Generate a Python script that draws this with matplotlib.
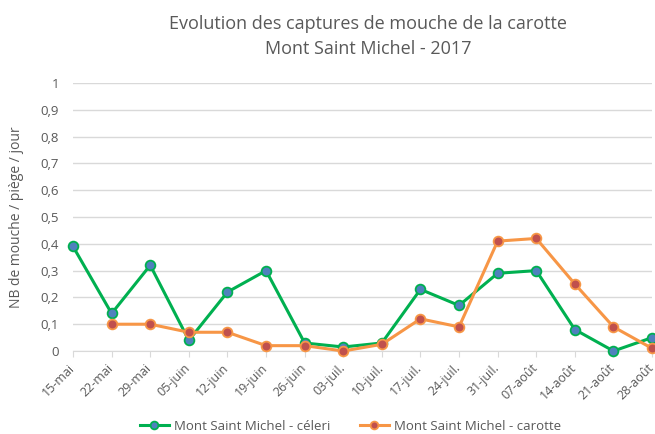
import matplotlib.pyplot as plt
import matplotlib.transforms as mtransforms
import numpy as np

dates = ['15-mai', '22-mai', '29-mai', '05-juin', '12-juin', '19-juin', '26-juin', '03-juil.',
         '10-juil.', '17-juil.', '24-juil.', '31-juil.', '07-août', '14-août', '21-août', '28-août']
celeri = [0.39, 0.14, 0.32, 0.04, 0.22, 0.30, 0.03, 0.015, 0.03, 0.23, 0.17, 0.29, 0.30, 0.08, 0.00, 0.05]
carotte = [np.nan, 0.10, 0.10, 0.07, 0.07, 0.02, 0.02, 0.00, 0.025, 0.12, 0.09, 0.41, 0.42, 0.25, 0.09, 0.01]

plt.rcParams['font.family'] = ['Open Sans', 'DejaVu Sans']
grey = '#595959'

fig = plt.figure(figsize=(6.55, 4.34), dpi=100)
ax = fig.add_axes([0.1115, 0.1912, 0.884, 0.6176])
x = np.arange(len(dates))

ax.plot(x, celeri, color='#00b050', lw=2.2, marker='o', ms=7, mfc='#4f81bd', mec='#00b050', mew=1.3,
        label='Mont Saint Michel - céleri', zorder=3)
ax.plot(x, carotte, color='#f79646', lw=2.2, marker='o', ms=7, mfc='#c0504d', mec='#f79646', mew=1.3,
        label='Mont Saint Michel - carotte', zorder=3)

ax.set_xlim(0, len(dates) - 1)
ax.set_ylim(0, 1)
ax.set_yticks(np.arange(0, 1.01, 0.1))
ax.set_yticklabels(['0'] + [('%.1f' % v).replace('.', ',') for v in np.arange(0.1, 0.95, 0.1)] + ['1'])
ax.set_xticks(x)
ax.set_xticklabels(dates, rotation=45, ha='right', rotation_mode='anchor')
ax.tick_params(axis='y', length=0, colors=grey, labelsize=9.5, pad=10)
ax.tick_params(axis='x', length=4, color='#d9d9d9', colors=grey, labelsize=9, pad=2)
shift = mtransforms.ScaledTranslation(-5 / 100, -2 / 100, fig.dpi_scale_trans)
for lab in ax.get_xticklabels():
    lab.set_color(grey)
    lab.set_transform(lab.get_transform() + shift)
ax.grid(axis='y', color='#d9d9d9', lw=1)
ax.set_axisbelow(True)
for s in ['top', 'right', 'left']:
    ax.spines[s].set_visible(False)
ax.spines['bottom'].set_color('#d9d9d9')
ax.spines['bottom'].set_zorder(2)
for ln in ax.lines:
    ln.set_clip_on(False)

ax.set_ylabel('NB de mouche / piège / jour', color=grey, fontsize=10)
ax.yaxis.set_label_coords(-0.085, 0.5)
fig.text(0.562, 0.945, 'Evolution des captures de mouche de la carotte', ha='center', va='center',
         fontsize=13, color=grey)
fig.text(0.562, 0.888, 'Mont Saint Michel - 2017', ha='center', va='center', fontsize=13, color=grey)

leg = fig.legend(loc='center', bbox_to_anchor=(0.535, 0.018), ncol=2, frameon=False, fontsize=9.5,
                 labelcolor=grey, handlelength=2.2, handletextpad=0.4, columnspacing=2.2, markerscale=0.8)

fig.savefig('out.png', dpi=100)
